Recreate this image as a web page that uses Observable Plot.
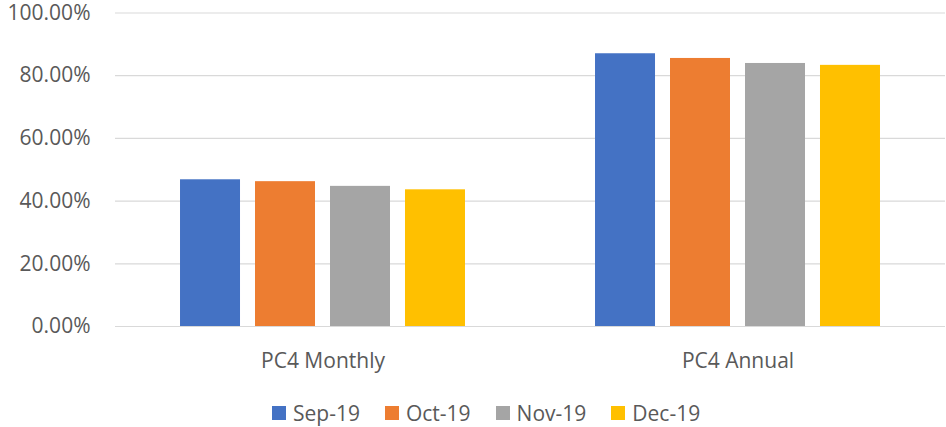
<!DOCTYPE html>
<html>
<head>
<meta charset="utf-8">
<script src="https://cdn.jsdelivr.net/npm/d3@7"></script>
<script src="https://cdn.jsdelivr.net/npm/@observablehq/plot@0.6"></script>
<style>
  html, body { margin: 0; padding: 0; background: #fff; }
  #chart { position: relative; width: 946px; height: 427px; font-family: "Open Sans", sans-serif; color: #595959; }
  #legend { position: absolute; left: 272px; top: 402px; display: flex; align-items: center; gap: 25px; font-size: 21px; line-height: 22px; }
  .item { display: flex; align-items: center; gap: 7px; }
  .sw { width: 14px; height: 14px; display: inline-block; }
</style>
</head>
<body>
<div id="chart"></div>
<script>
const categories = ["PC4 Monthly", "PC4 Annual"];
const series = ["Sep-19", "Oct-19", "Nov-19", "Dec-19"];
const colors = ["#4472C4", "#ED7D31", "#A5A5A5", "#FFC000"];
const monthlyValues = [46.8, 46.2, 44.7, 43.6];
const annualValues = [87.0, 85.5, 83.9, 83.3];
const yTicks = [0, 20, 40, 60, 80, 100];

const valuesByCategory = [monthlyValues, annualValues];
const data = [];
categories.forEach((c, i) => series.forEach((s, j) => data.push({category: c, series: s, value: valuesByCategory[i][j]})));

const plot = Plot.plot({
  width: 946,
  height: 380,
  marginLeft: 115,
  marginRight: 1,
  marginTop: 12.5,
  marginBottom: 54,
  style: {fontFamily: "Open Sans, sans-serif", fontSize: "21px", color: "#595959", background: "#fff", overflow: "visible"},
  fx: {domain: categories, padding: 0, round: false, axis: "bottom", label: null, tickSize: 0, tickPadding: 27},
  x: {domain: series, paddingInner: 0.2, paddingOuter: 0.867, round: false, axis: null},
  y: {domain: [0, 100], ticks: yTicks, tickFormat: d => d.toFixed(2) + "%", tickSize: 0, tickPadding: 25, label: null},
  color: {domain: series, range: colors},
  marks: [
    Plot.gridY(yTicks, {stroke: "#d9d9d9", strokeOpacity: 1, strokeWidth: 1.2}),
    Plot.barY(data, {fx: "category", x: "series", y: "value", fill: "series"})
  ]
});
document.getElementById("chart").appendChild(plot);

const legend = document.createElement("div");
legend.id = "legend";
series.forEach((s, i) => {
  const item = document.createElement("div");
  item.className = "item";
  const sw = document.createElement("span");
  sw.className = "sw";
  sw.style.background = colors[i];
  const t = document.createElement("span");
  t.textContent = s;
  item.appendChild(sw);
  item.appendChild(t);
  legend.appendChild(item);
});
document.getElementById("chart").appendChild(legend);
</script>
</body>
</html>
